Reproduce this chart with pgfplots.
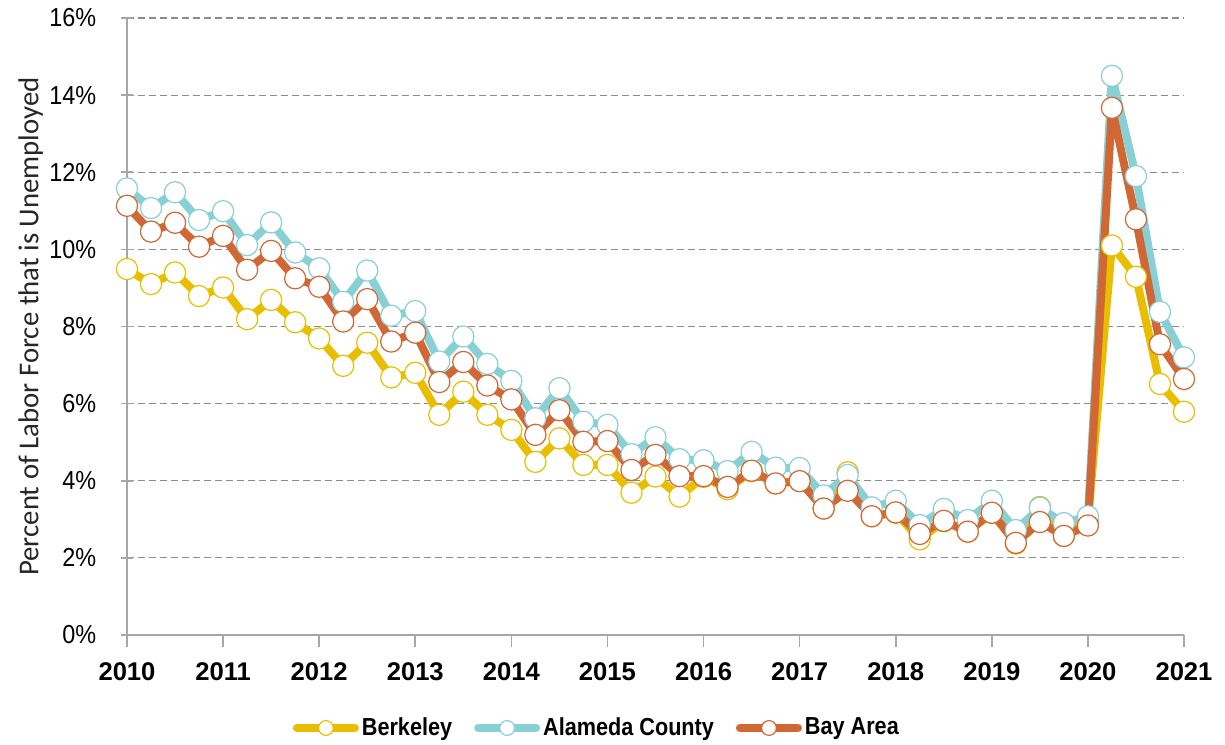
\documentclass[border=0pt]{standalone}
\usepackage{pgfplots}
\pgfplotsset{compat=1.18}
\usepackage{pgfplotstable}
\usepackage{fontspec}
\setmainfont{Liberation Sans}
\newfontfamily\ytfont[FakeStretch=0.9]{Liberation Sans}
\newfontfamily\legfont[FakeStretch=0.88]{Liberation Sans}
\newfontfamily\ylabfont{Carlito}

\definecolor{cberk}{RGB}{234,190,0}
\definecolor{calam}{RGB}{136,208,212}
\definecolor{cbay}{RGB}{208,103,52}
\definecolor{axgray}{RGB}{166,166,166}
\definecolor{gridgray}{RGB}{140,140,140}
\definecolor{labgray}{RGB}{38,38,38}

% quarter index: 0 = 2010 Q1 ... 44 = 2021 Q1
\pgfplotstableread{
q berk alam bay
0 9.49 11.58 11.13
1 9.10 11.07 10.46
2 9.40 11.48 10.69
3 8.79 10.76 10.07
4 9.01 10.99 10.35
5 8.19 10.11 9.47
6 8.69 10.70 9.96
7 8.11 9.92 9.25
8 7.69 9.51 9.03
9 6.98 8.64 8.13
10 7.58 9.45 8.71
11 6.68 8.28 7.61
12 6.80 8.40 7.84
13 5.71 7.09 6.56
14 6.31 7.74 7.08
15 5.71 7.03 6.47
16 5.32 6.59 6.11
17 4.49 5.62 5.19
18 5.10 6.40 5.83
19 4.41 5.53 5.01
20 4.41 5.45 5.03
21 3.69 4.69 4.28
22 4.11 5.13 4.67
23 3.59 4.56 4.12
24 4.10 4.53 4.12
25 3.78 4.25 3.84
26 4.25 4.75 4.26
27 3.93 4.34 3.93
28 4.00 4.33 3.99
29 3.28 3.62 3.28
30 4.22 4.15 3.74
31 3.08 3.31 3.08
32 3.17 3.48 3.18
33 2.48 2.85 2.62
34 2.95 3.27 2.96
35 2.68 2.98 2.68
36 3.17 3.48 3.17
37 2.37 2.72 2.39
38 3.32 3.30 2.93
39 2.57 2.90 2.57
40 2.95 3.08 2.84
41 10.10 14.50 13.67
42 9.29 11.90 10.78
43 6.51 8.38 7.54
44 5.79 7.20 6.64
}\datatable

\begin{document}
\begin{tikzpicture}
\begin{axis}[
  name=ax,
  at={(0,0)}, anchor=south west,
  scale only axis,
  width=528.5pt, height=308.5pt,
  xmin=0, xmax=44, ymin=0, ymax=16,
  clip=false,
  axis lines=left,
  axis line style={-, draw=axgray, line width=0.8pt},
  xtick={0,4,...,44},
  xticklabels={2010,2011,2012,2013,2014,2015,2016,2017,2018,2019,2020,2021},
  ytick={0,2,...,16},
  yticklabels={0\%,2\%,4\%,6\%,8\%,10\%,12\%,14\%,16\%},
  xtick align=outside,
  ytick align=center,
  major tick length=6pt,
  tick style={draw=axgray, line width=0.8pt},
  ymajorgrids,
  grid style={draw=gridgray, line width=0.6pt, dash pattern=on 3.5pt off 2pt},
  xticklabel style={font=\bfseries\fontsize{12.8}{14}\selectfont, anchor=north, inner sep=0pt, yshift=-7.5pt},
  yticklabel style={font=\ytfont\fontsize{13}{14}\selectfont, anchor=east, inner sep=0pt, xshift=-12.25pt},
  ylabel={Percent of Labor Force that is Unemployed},
  ylabel style={font=\ylabfont\fontsize{14.4}{17}\selectfont, color=labgray, at={(axis description cs:-0.091,0.5)}, anchor=center},
  every axis plot/.append style={line width=4pt, line join=round, mark=*, mark size=5.3pt},
  legend image code/.code={\draw[mark repeat=2,mark phase=2,#1,line cap=round,mark size=3.7pt] plot coordinates {(0pt,0pt) (14.5pt,0pt) (29pt,0pt)};},
  legend style={at={(axis description cs:0.445,-0.1507)}, anchor=center, draw=none, fill=none,
    legend columns=3, font=\legfont\bfseries\fontsize{12.3}{14}\selectfont,
    /tikz/every even column/.append style={column sep=9.5pt},
    nodes={inner sep=1.5pt}},
]
\addplot[color=cberk, mark options={fill=white, draw=cberk, line width=0.6pt, solid}] table[x=q, y=berk] {\datatable};
\addlegendentry{Berkeley}
\addplot[color=calam, mark options={fill=white, draw=calam, line width=0.6pt, solid}] table[x=q, y=alam] {\datatable};
\addlegendentry{Alameda County}
\addplot[color=cbay, mark options={fill=white, draw=cbay, line width=0.6pt, solid}] table[x=q, y=bay] {\datatable};
\addlegendentry{Bay Area}
\end{axis}
\pgfresetboundingbox
\path[use as bounding box] (ax.south west) ++(-63.5pt,-54.5pt) rectangle ++(612.5pt,372pt);
\end{tikzpicture}
\end{document}
